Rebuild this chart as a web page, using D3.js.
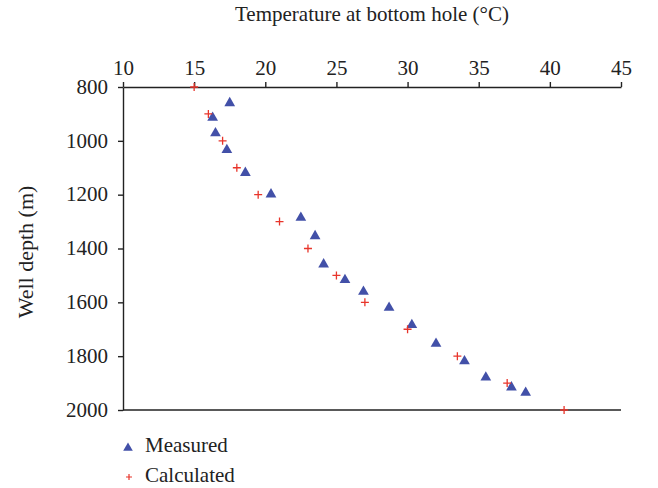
<!DOCTYPE html>
<html>
<head>
<meta charset="utf-8">
<script src="https://cdn.jsdelivr.net/npm/d3@7"></script>
<style>
  body { margin: 0; background: #fff; }
  svg text { font-family: "Liberation Serif", "Times New Roman", serif !important; fill: #222; }
</style>
</head>
<body>
<div id="chart"></div>
<script>
// depth (m) vs temperature (°C)
const measuredTemp = [17.5, 16.3, 16.5, 17.3, 18.6, 20.4, 22.5, 23.5, 24.1, 25.6, 26.9, 28.7, 30.3, 32.0, 34.0, 35.5, 37.3, 38.3];
const measuredDepth = [856, 910, 968, 1030, 1115, 1195, 1282, 1350, 1455, 1513, 1557, 1616, 1680, 1750, 1815, 1875, 1912, 1932];
const calcTemp = [15, 16, 17, 18, 19.5, 21, 23, 25, 27, 30, 33.5, 37, 41];
const calcDepth = [800, 900, 1000, 1100, 1200, 1300, 1400, 1500, 1600, 1700, 1800, 1900, 2000];
const xTicks = [10, 15, 20, 25, 30, 35, 40, 45];
const yTicks = [800, 1000, 1200, 1400, 1600, 1800, 2000];

const width = 658;
const height = 488;
const margin = { top: 87, left: 123, right: 37, bottom: 78 };
const fontSize = 21;
const serif = '"Liberation Serif", "Times New Roman", serif';

const svg = d3.select('#chart')
    .append('svg')
    .attr('width', width)
    .attr('height', height)
    .attr('font-family', serif);

const x = d3.scaleLinear().domain([10, 45]).range([margin.left, width - margin.right]);
const y = d3.scaleLinear().domain([800, 2000]).range([margin.top, height - margin.bottom]);

// top axis
const xAxis = svg.append('g')
    .attr('transform', `translate(0,${margin.top})`)
    .call(d3.axisTop(x).tickValues(xTicks).tickSize(5).tickSizeOuter(0).tickPadding(6));
xAxis.attr('font-family', serif).attr('font-size', fontSize);
xAxis.selectAll('text').attr('dy', '-0.05em');

// left axis
const yAxis = svg.append('g')
    .attr('transform', `translate(${margin.left},0)`)
    .call(d3.axisLeft(y).tickValues(yTicks).tickFormat(d3.format('d')).tickSize(5).tickSizeOuter(0).tickPadding(10));
yAxis.attr('font-family', serif).attr('font-size', fontSize);
yAxis.selectAll('text').attr('dy', '0.3em');

svg.selectAll('.domain, .tick line').attr('stroke', '#222').attr('stroke-width', 1.4);

// bottom frame line
svg.append('line')
    .attr('x1', x(10)).attr('x2', x(45))
    .attr('y1', y(2000)).attr('y2', y(2000))
    .attr('stroke', '#222')
    .attr('stroke-width', 1.4);

// axis titles
svg.append('text')
    .attr('x', 372)
    .attr('y', 21)
    .attr('text-anchor', 'middle')
    .attr('font-size', fontSize)
    .text('Temperature at bottom hole (°C)');

svg.append('text')
    .attr('transform', `translate(33,252) rotate(-90)`)
    .attr('text-anchor', 'middle')
    .attr('font-size', 22)
    .text('Well depth (m)');

const tri = d3.symbol().type(d3.symbolTriangle).size(50);
const triColor = '#4250a8';
const plusColor = '#e8352b';

function plusPath(cx, cy, r) {
    return `M${cx - r},${cy}H${cx + r}M${cx},${cy - r}V${cy + r}`;
}

// measured points
svg.append('g')
    .selectAll('path')
    .data(d3.range(measuredTemp.length))
    .enter()
    .append('path')
    .attr('d', tri)
    .attr('transform', i => `translate(${x(measuredTemp[i])},${y(measuredDepth[i]) + 1})`)
    .attr('fill', triColor);

// calculated points
svg.append('g')
    .selectAll('path')
    .data(d3.range(calcTemp.length))
    .enter()
    .append('path')
    .attr('d', i => plusPath(x(calcTemp[i]), y(calcDepth[i]), 4))
    .attr('stroke', plusColor)
    .attr('stroke-width', 1.3)
    .attr('fill', 'none');

// legend
const legend = svg.append('g');
legend.append('path')
    .attr('d', d3.symbol().type(d3.symbolTriangle).size(40))
    .attr('transform', 'translate(128,448)')
    .attr('fill', triColor);
legend.append('text')
    .attr('x', 145).attr('y', 452)
    .attr('font-size', fontSize)
    .text('Measured');
legend.append('path')
    .attr('d', plusPath(129, 477, 3))
    .attr('stroke', plusColor)
    .attr('stroke-width', 1.2);
legend.append('text')
    .attr('x', 145).attr('y', 482)
    .attr('font-size', fontSize)
    .text('Calculated');
</script>
</body>
</html>
